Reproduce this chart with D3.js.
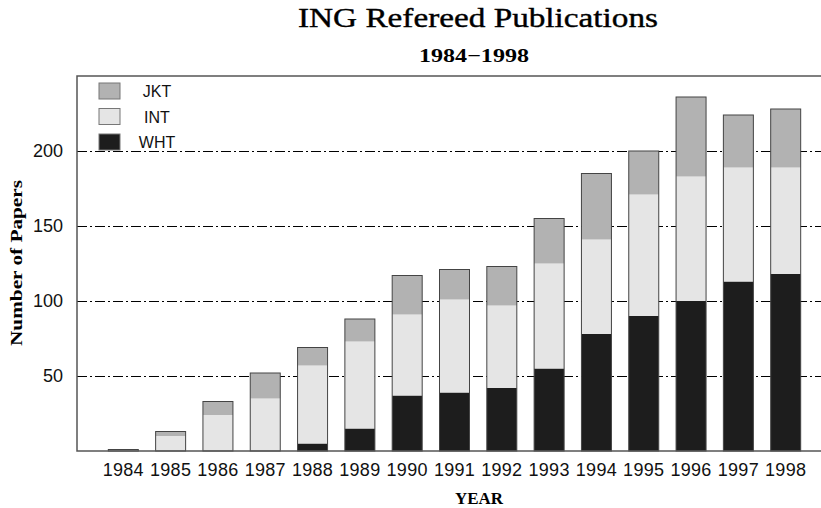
<!DOCTYPE html>
<html>
<head>
<meta charset="utf-8">
<script src="https://cdn.jsdelivr.net/npm/d3@7.9.0/dist/d3.min.js"></script>
<style>
  body { margin: 0; background: #fff; }
  svg { display: block; }
</style>
</head>
<body>
<svg id="chart" width="821" height="508"></svg>
<script>
const years = [1984, 1985, 1986, 1987, 1988, 1989, 1990, 1991, 1992, 1993, 1994, 1995, 1996, 1997, 1998];
const wht = [0, 0, 0, 0, 5, 15, 37, 39, 42, 55, 78, 90, 100, 113, 118];
const int = [1, 10, 24, 35, 52, 58, 54, 62, 55, 70, 63, 81, 83, 76, 71];
const jkt = [0, 3, 9, 17, 12, 15, 26, 20, 26, 30, 44, 29, 53, 35, 39];
const yTicks = [50, 100, 150, 200];
const keys = ['WHT', 'INT', 'JKT'];
const colors = { WHT: '#1d1d1d', INT: '#e5e5e5', JKT: '#b2b2b2' };

// table for d3.stack
const table = years.map((y, i) => ({ year: y, WHT: wht[i], INT: int[i], JKT: jkt[i] }));
const series = d3.stack().keys(keys)(table);

const svg = d3.select('#chart');
const plotLeft = 77, plotRight = 821, plotTop = 76, plotBottom = 451;

const x = d3.scaleBand().domain(years).range([91, 818]).padding(0.366);
const y = d3.scaleLinear().domain([0, 250]).range([plotBottom, plotTop]);

// titles
svg.append('text')
  .attr('x', 478).attr('y', 27)
  .attr('text-anchor', 'middle')
  .attr('font-family', 'Liberation Serif, serif')
  .attr('font-size', 28)
  .attr('stroke', '#000').attr('stroke-width', 0.4)
  .attr('textLength', 360).attr('lengthAdjust', 'spacingAndGlyphs')
  .text('ING Refereed Publications');

svg.append('text')
  .attr('x', 474).attr('y', 62)
  .attr('text-anchor', 'middle')
  .attr('font-family', 'Liberation Serif, serif')
  .attr('font-weight', 'bold')
  .attr('font-size', 19)
  .attr('textLength', 110).attr('lengthAdjust', 'spacingAndGlyphs')
  .text('1984\u22121998');

// grid lines (dash-dot), behind bars
svg.append('g').selectAll('line')
  .data(yTicks)
  .join('line')
  .attr('x1', plotLeft).attr('x2', plotRight)
  .attr('y1', d => y(d)).attr('y2', d => y(d))
  .attr('stroke', '#000')
  .attr('stroke-width', 1)
  .attr('shape-rendering', 'crispEdges')
  .attr('stroke-dasharray', '10,3,2,3');

// bars
svg.append('g').selectAll('g')
  .data(series)
  .join('g')
  .attr('fill', d => colors[d.key])
  .selectAll('rect')
  .data(d => d)
  .join('rect')
  .attr('x', d => x(d.data.year))
  .attr('width', x.bandwidth())
  .attr('y', d => y(d[1]))
  .attr('height', d => y(d[0]) - y(d[1]));

// outline around each stack
svg.append('g').selectAll('rect')
  .data(table)
  .join('rect')
  .attr('x', d => x(d.year))
  .attr('width', x.bandwidth())
  .attr('y', d => y(d.WHT + d.INT + d.JKT))
  .attr('height', d => plotBottom - y(d.WHT + d.INT + d.JKT))
  .attr('fill', 'none')
  .attr('stroke', '#444')
  .attr('stroke-width', 1);

// frame
svg.append('path')
  .attr('d', `M${plotRight + 2},${plotTop}H${plotLeft}V${plotBottom}H${plotRight + 2}`)
  .attr('fill', 'none')
  .attr('stroke', '#555')
  .attr('stroke-width', 1.5);

// axes
const xAxis = svg.append('g')
  .attr('transform', `translate(0,${plotBottom})`)
  .call(d3.axisBottom(x).tickSize(0).tickPadding(12));
xAxis.select('.domain').remove();
xAxis.selectAll('text')
  .attr('font-family', 'Liberation Sans, Arial, sans-serif')
  .attr('font-size', 18)
  .attr('letter-spacing', 0.3)
  .attr('fill', '#111');

const yAxis = svg.append('g')
  .attr('transform', `translate(${plotLeft},0)`)
  .call(d3.axisLeft(y).tickValues(yTicks).tickSize(0).tickPadding(14));
yAxis.select('.domain').remove();
yAxis.selectAll('text')
  .attr('font-family', 'Liberation Sans, Arial, sans-serif')
  .attr('font-size', 18)
  .attr('fill', '#111');

// axis titles
svg.append('text')
  .attr('transform', 'translate(22,263) rotate(-90)')
  .attr('text-anchor', 'middle')
  .attr('font-family', 'Liberation Serif, serif')
  .attr('font-weight', 'bold')
  .attr('font-size', 16)
  .attr('textLength', 166).attr('lengthAdjust', 'spacingAndGlyphs')
  .text('Number of Papers');

svg.append('text')
  .attr('x', 479).attr('y', 504)
  .attr('text-anchor', 'middle')
  .attr('font-family', 'Liberation Serif, serif')
  .attr('font-weight', 'bold')
  .attr('font-size', 17)
  .attr('textLength', 48).attr('lengthAdjust', 'spacingAndGlyphs')
  .text('YEAR');

// legend
const legendKeys = ['JKT', 'INT', 'WHT'];
const legend = svg.append('g').selectAll('g')
  .data(legendKeys)
  .join('g')
  .attr('transform', (d, i) => `translate(99,${83 + i * 25.5})`);
legend.append('rect')
  .attr('width', 21).attr('height', 16)
  .attr('fill', d => colors[d])
  .attr('stroke', '#777')
  .attr('stroke-width', 1);
legend.append('text')
  .attr('x', 58).attr('y', 14)
  .attr('text-anchor', 'middle')
  .attr('font-family', 'Liberation Sans, Arial, sans-serif')
  .attr('font-size', 16)
  .attr('fill', '#111')
  .text(d => d);
</script>
</body>
</html>
